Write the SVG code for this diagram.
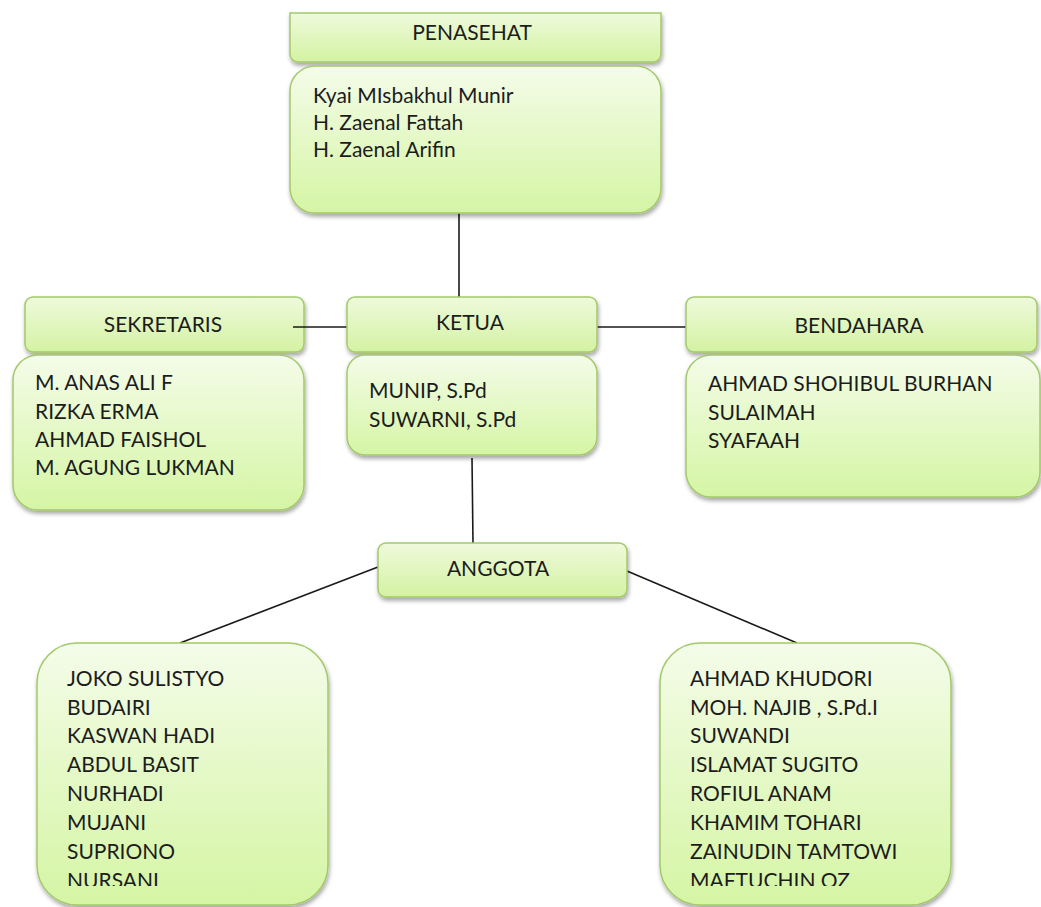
<svg xmlns="http://www.w3.org/2000/svg" width="1041" height="907" viewBox="0 0 1041 907">
<defs>
<linearGradient id="gb" x1="0" y1="0" x2="0" y2="1">
<stop offset="0" stop-color="#f4fce9"/>
<stop offset="1" stop-color="#d5f5a4"/>
</linearGradient>
<linearGradient id="gh" x1="0" y1="0" x2="0" y2="1">
<stop offset="0" stop-color="#eefadc"/>
<stop offset="1" stop-color="#d4f2a2"/>
</linearGradient>
<filter id="sh" x="-10%" y="-10%" width="120%" height="130%">
<feDropShadow dx="1" dy="3" stdDeviation="2" flood-color="#000" flood-opacity="0.35"/>
</filter>
<clipPath id="cl"><rect x="30" y="650" width="300" height="236"/></clipPath>
<clipPath id="cr"><rect x="660" y="650" width="290" height="236"/></clipPath>
</defs>
<style>
.hd{fill:url(#gh);stroke:#a3c96a;stroke-width:1.5;filter:url(#sh)}
.bd{fill:url(#gb);stroke:#a3c96a;stroke-width:1.5;filter:url(#sh)}
.t{font-family:Lato,"Liberation Sans",sans-serif;font-size:21px;fill:#1c1c1c}
.c{text-anchor:middle}
.ln{stroke:#1a1a1a;stroke-width:1.6;fill:none}
</style>
<rect width="1041" height="907" fill="#fff"/>
<g id="connectors">
<line class="ln" x1="459" y1="213" x2="459" y2="297"/>
<line class="ln" x1="347" y1="327" x2="597" y2="327"/>
<line class="ln" x1="597" y1="327" x2="686" y2="327"/>
<line class="ln" x1="472" y1="458" x2="473" y2="543"/>
<line class="ln" x1="378" y1="567" x2="180" y2="643"/>
<line class="ln" x1="627" y1="571" x2="797" y2="643"/>
</g>
<g id="penasehat">
<path class="hd" d="M290,13 H661 V54 a8,8 0 0 1 -8,8 H298 a8,8 0 0 1 -8,-8 Z"/>
<text class="t c" x="472" y="40">PENASEHAT</text>
</g>
<g id="penasehat-list">
<rect class="bd" x="290" y="66" width="371" height="147" rx="25"/>
<text class="t" x="313" y="103">Kyai MIsbakhul  Munir</text>
<text class="t" x="313" y="130">H. Zaenal Fattah</text>
<text class="t" x="313" y="157">H. Zaenal Arifin</text>
</g>
<g id="sekretaris">
<rect class="hd" x="25" y="297" width="279" height="55" rx="8"/>
<text class="t c" x="163" y="332">SEKRETARIS</text>
</g>
<line class="ln" x1="293" y1="327" x2="347" y2="327"/>
<g id="sekretaris-list">
<rect class="bd" x="13" y="355" width="291" height="155" rx="25"/>
<text class="t" x="35" y="390">M. ANAS ALI F</text>
<text class="t" x="35" y="419">RIZKA ERMA</text>
<text class="t" x="35" y="447">AHMAD FAISHOL</text>
<text class="t" x="35" y="475">M. AGUNG LUKMAN</text>
</g>
<g id="ketua">
<rect class="hd" x="347" y="297" width="250" height="55" rx="8"/>
<text class="t c" x="470" y="330">KETUA</text>
</g>
<g id="ketua-list">
<rect class="bd" x="347" y="355" width="250" height="100" rx="18"/>
<text class="t" x="369" y="398">MUNIP, S.Pd</text>
<text class="t" x="369" y="427">SUWARNI, S.Pd</text>
</g>
<g id="bendahara">
<rect class="hd" x="686" y="297" width="351" height="55" rx="8"/>
<text class="t c" x="859" y="333">BENDAHARA</text>
</g>
<g id="bendahara-list">
<rect class="bd" x="686" y="355" width="354" height="142" rx="25"/>
<text class="t" x="708" y="391">AHMAD SHOHIBUL BURHAN</text>
<text class="t" x="708" y="420">SULAIMAH</text>
<text class="t" x="708" y="448">SYAFAAH</text>
</g>
<g id="anggota">
<rect class="hd" x="378" y="543" width="249" height="54" rx="8"/>
<text class="t c" x="498" y="576">ANGGOTA</text>
</g>
<g id="anggota-left">
<rect class="bd" x="37" y="643" width="291" height="262" rx="40"/>
<g clip-path="url(#cl)">
<text class="t" x="67" y="686">JOKO SULISTYO</text>
<text class="t" x="67" y="715">BUDAIRI</text>
<text class="t" x="67" y="743">KASWAN HADI</text>
<text class="t" x="67" y="772">ABDUL BASIT</text>
<text class="t" x="67" y="801">NURHADI</text>
<text class="t" x="67" y="830">MUJANI</text>
<text class="t" x="67" y="859">SUPRIONO</text>
<text class="t" x="67" y="888">NURSANI</text>
</g>
</g>
<g id="anggota-right">
<rect class="bd" x="660" y="643" width="291" height="262" rx="40"/>
<g clip-path="url(#cr)">
<text class="t" x="690" y="686">AHMAD KHUDORI</text>
<text class="t" x="690" y="715">MOH. NAJIB , S.Pd.I</text>
<text class="t" x="690" y="743">SUWANDI</text>
<text class="t" x="690" y="772">ISLAMAT SUGITO</text>
<text class="t" x="690" y="801">ROFIUL ANAM</text>
<text class="t" x="690" y="830">KHAMIM TOHARI</text>
<text class="t" x="690" y="859">ZAINUDIN TAMTOWI</text>
<text class="t" x="690" y="888">MAFTUCHIN OZ</text>
</g>
</g>
</svg>
